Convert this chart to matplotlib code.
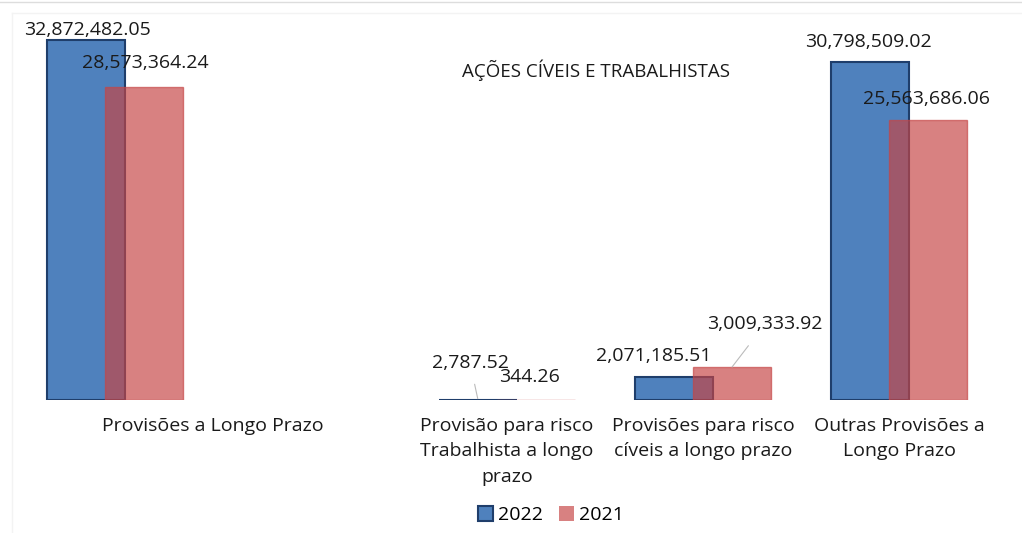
import matplotlib.pyplot as plt
from matplotlib.lines import Line2D
from matplotlib.patches import Patch
import numpy as np

# dados
categorias = ['Provisões a Longo Prazo', '',
              'Provisão para risco\nTrabalhista a longo\nprazo',
              'Provisões para risco\ncíveis a longo prazo',
              'Outras Provisões a\nLongo Prazo']
valores_2022 = [32872482.05, np.nan, 2787.52, 2071185.51, 30798509.02]
valores_2021 = [28573364.24, np.nan, 344.26, 3009333.92, 25563686.06]
rotulos_2022 = ['32,872,482.05', '', '2,787.52', '2,071,185.51', '30,798,509.02']
rotulos_2021 = ['28,573,364.24', '', '344.26', '3,009,333.92', '25,563,686.06']

# deslocamento dos rótulos (pixels)
offs_2022 = [(1, 10), None, (-8, 37), (-20, 21), (-2, 20)]
offs_2021 = [(1, 24), None, (-7, 23), (33, 43), (-2, 21)]
leader_2022 = [False, False, True, False, False]
leader_2021 = [False, False, False, True, False]

plt.rcParams['font.family'] = ['Open Sans', 'DejaVu Sans']

fig = plt.figure(figsize=(10.22, 5.33), dpi=100)
ax = fig.add_axes([12 / 1022, 133 / 533, 998 / 1022, 387 / 533])

x = np.arange(len(categorias))
w = 0.398
d = 0.148
azul = '#4F81BD'
borda = '#1F3E6B'
verm = '#C64545'
fs = 14

ax.bar(x - d, valores_2022, w, color=azul, edgecolor=borda, linewidth=1.5, zorder=2)
ax.bar(x + d, valores_2021, w, color=verm, alpha=0.68, edgecolor=verm, linewidth=1.0, zorder=3)

for i in range(len(categorias)):
    if offs_2022[i] is not None:
        ax.annotate(rotulos_2022[i], xy=(x[i] - d, valores_2022[i]), xytext=offs_2022[i],
                    textcoords='offset pixels', ha='center', va='center', fontsize=fs,
                    color='#1a1a1a', zorder=5,
                    arrowprops=dict(arrowstyle='-', color='#BBBBBB', lw=0.8,
                                    shrinkA=7, shrinkB=1) if leader_2022[i] else None)
    if offs_2021[i] is not None:
        ax.annotate(rotulos_2021[i], xy=(x[i] + d, valores_2021[i]), xytext=offs_2021[i],
                    textcoords='offset pixels', ha='center', va='center', fontsize=fs,
                    color='#1a1a1a', zorder=5,
                    arrowprops=dict(arrowstyle='-', color='#BBBBBB', lw=0.8,
                                    shrinkA=9, shrinkB=0) if leader_2021[i] else None)

ax.set_xlim(-0.5255, 4.566)
ax.set_ylim(0, 35.3e6)
ax.set_xticks([0.5, 2, 3, 4])
ax.set_xticklabels([categorias[0], categorias[2], categorias[3], categorias[4]],
                   fontsize=fs, color='#1a1a1a', linespacing=1.55, va='top')
ax.tick_params(axis='x', length=0, pad=12)
ax.set_yticks([])
for s in ax.spines.values():
    s.set_visible(False)

fig.text(596 / 1022, 1 - 70 / 533, 'AÇÕES CÍVEIS E TRABALHISTAS', ha='center', va='center',
         fontsize=13.5, color='#1a1a1a')

handles = [Patch(facecolor=azul, edgecolor=borda, linewidth=1.5, label='2022'),
           Patch(facecolor=verm, alpha=0.68, edgecolor='none', label='2021')]
fig.legend(handles=handles, loc='center', bbox_to_anchor=(551 / 1022, 1 - 515 / 533), ncol=2,
           frameon=False, fontsize=fs, handlelength=0.8, handleheight=0.8,
           handletextpad=0.25, columnspacing=0.8)

# moldura fraca
fig.add_artist(Line2D([0, 1], [1 - 2 / 533, 1 - 2 / 533], color='#DDDDDD', lw=1))
fig.add_artist(Line2D([12 / 1022, 1], [1 - 13 / 533, 1 - 13 / 533], color='#F3F3F3', lw=1))
fig.add_artist(Line2D([12 / 1022, 12 / 1022], [0, 1 - 13 / 533], color='#F3F3F3', lw=1))

fig.savefig('out.png', dpi=100)
